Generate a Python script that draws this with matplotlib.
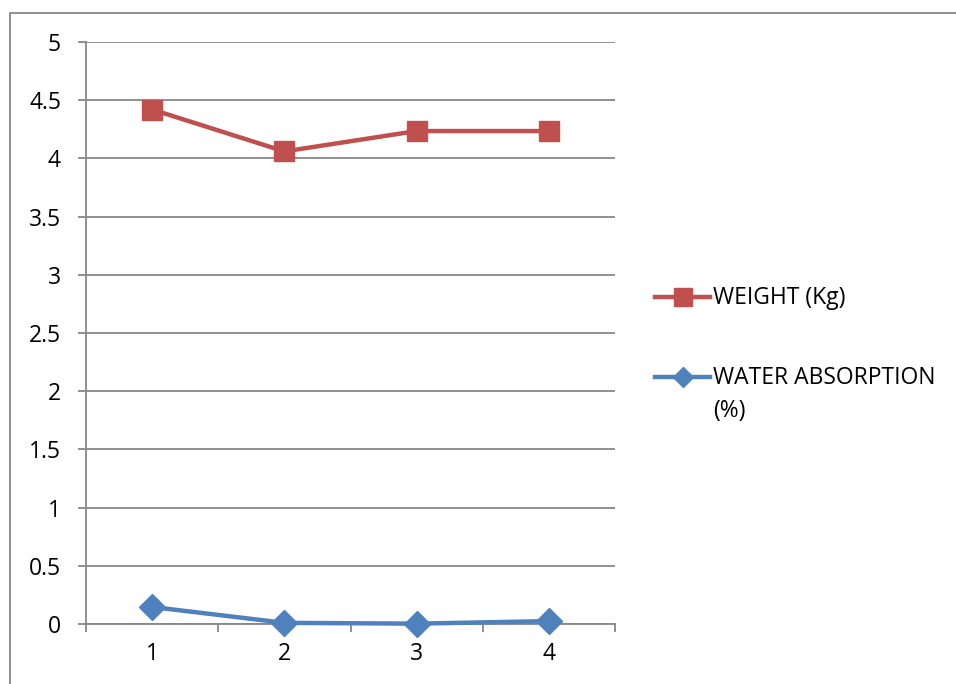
import matplotlib
matplotlib.use("Agg")
import matplotlib.pyplot as plt
from matplotlib.lines import Line2D
from matplotlib.patches import Rectangle

categories = [1, 2, 3, 4]
weight = [4.42, 4.06, 4.235, 4.235]
water = [0.146, 0.01, 0.003, 0.025]
labels = ["WEIGHT (Kg)", "WATER ABSORPTION\n(%)"]
yticks = [0, 0.5, 1, 1.5, 2, 2.5, 3, 3.5, 4, 4.5, 5]
ytick_labels = ["0", "0.5", "1", "1.5", "2", "2.5", "3", "3.5", "4", "4.5", "5"]

RED = "#C0504D"
BLUE = "#4F81BD"
GRID = "#878787"
FS = 16.5

plt.rcParams['font.family'] = ['Open Sans', 'DejaVu Sans']

fig = plt.figure(figsize=(9.56, 6.84), dpi=100)
ax = fig.add_axes([86/956, 1-624/684, (615-86)/956, (624-42)/684])

ax.plot(categories, weight, color=RED, lw=3.2, marker='s', ms=14.5, zorder=3, clip_on=False)
ax.plot(categories, water, color=BLUE, lw=3.2, marker='D', ms=13, zorder=3, clip_on=False)

ax.set_xlim(0.5, 4.5)
ax.set_ylim(0, 5)
ax.set_yticks(yticks)
ax.set_yticklabels(ytick_labels)
ax.set_xticks(categories)
ax.set_xticklabels([str(c) for c in categories])
ax.set_xticks([0.5, 1.5, 2.5, 3.5, 4.5], minor=True)
ax.yaxis.grid(True, color=GRID, lw=1.3)
ax.set_axisbelow(True)
for s in ['top', 'right']:
    ax.spines[s].set_visible(False)
for s in ['left', 'bottom']:
    ax.spines[s].set_color(GRID)
    ax.spines[s].set_linewidth(1.3)
ax.tick_params(axis='y', length=6, width=1.3, color=GRID, pad=12, labelsize=FS)
ax.tick_params(axis='x', which='major', length=0, pad=13, labelsize=FS)
ax.tick_params(axis='x', which='minor', length=6, width=1.3, color=GRID)

# legend (manual, Excel style)
def legend_entry(y, color, marker, ms, text):
    fig.add_artist(Line2D([655/956, 710/956], [1-y/684, 1-y/684], color=color, lw=3.2,
                          transform=fig.transFigure))
    fig.add_artist(Line2D([682.5/956], [1-y/684], color=color, marker=marker, ms=ms,
                          transform=fig.transFigure))
    fig.text(713/956, 1-(y-11)/684, text, fontsize=FS, va='top', ha='left', linespacing=1.5)

legend_entry(297, RED, 's', 13, labels[0])
legend_entry(377, BLUE, 'D', 10.5, labels[1])

# outer chart border
fig.add_artist(Rectangle((10/956, -0.1), 1.2, 1 - 13/684 + 0.1, transform=fig.transFigure,
                         fill=False, edgecolor="#888888", lw=1.3))

fig.savefig("out.png", dpi=100)
